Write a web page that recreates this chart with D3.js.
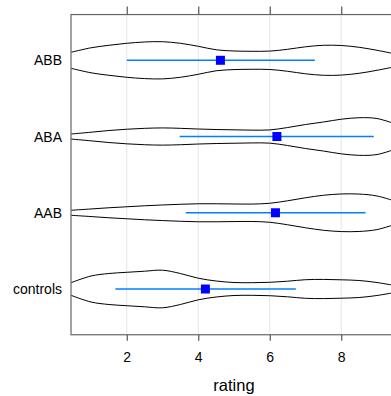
<!DOCTYPE html>
<html><head><meta charset="utf-8">
<script src="https://cdn.jsdelivr.net/npm/d3@7"></script>
<style>body{margin:0;background:#fff;}svg{display:block;font-family:"Liberation Sans",Arial,sans-serif;}</style>
</head><body><svg id="c" width="391" height="396"></svg>
<script>
const groups = ["controls", "AAB", "ABA", "ABB"];
const ratingGrid = [0.44, 1, 1.5, 2, 2.5, 3, 3.5, 4, 4.5, 5, 5.5, 6, 6.5, 7, 7.5, 8, 8.5, 9, 9.56];
const densControls = [6.3, 13, 15.5, 16.7, 17.8, 18.8, 15.5, 10.8, 8, 6.5, 6.3, 6.7, 7.8, 9.3, 9.6, 9.2, 8.5, 6.5, 3];
const densAAB = [2.5, 3.8, 5, 6, 7, 7.8, 8.5, 9, 9, 8.8, 8.7, 9.5, 12, 15, 17.5, 18.8, 18.7, 16.8, 11];
const densABA = [2.5, 4.3, 6, 7.3, 8.2, 8.6, 8.2, 7.5, 7, 6.7, 6.4, 6.6, 9, 12, 14.5, 17.3, 18.8, 18, 12];
const densABB = [8, 12.5, 15, 17, 18.3, 18.6, 17, 14, 10.5, 9.3, 9, 9.2, 11, 13.5, 15, 14.8, 13, 10, 6];
const means = [4.2, 6.16, 6.2, 4.62];
const lower = [1.68, 3.65, 3.48, 2.0];
const upper = [6.73, 8.68, 8.91, 7.26];
const xTicks = [2, 4, 6, 8];
const xLabel = "rating";

const dens = [densControls, densAAB, densABA, densABB];
const svg = d3.select("#c");
const L = 71, R = 397, T = 14.55, B = 334.75;
const x = d3.scaleLinear().domain([0.44, 9.56]).range([L, R]);
const y = d3.scalePoint().domain(groups).range([B, T]).padding(0.6);
const w = d3.scaleLinear().domain([0, 20]).range([0, 20]);

svg.append("defs").append("clipPath").attr("id", "pc").append("rect")
  .attr("x", L).attr("y", T).attr("width", R - L).attr("height", B - T);

// grid
svg.append("g").selectAll("line").data(xTicks).join("line")
  .attr("x1", d => x(d)).attr("x2", d => x(d)).attr("y1", T).attr("y2", B)
  .attr("stroke", "#e6e6e6").attr("stroke-width", 1);

const pg = svg.append("g").attr("clip-path", "url(#pc)");
groups.forEach((g, i) => {
  const pts = ratingGrid.map((r, j) => ({r, d: dens[i][j]}));
  const top = d3.line().x(p => x(p.r)).y(p => y(g) - w(p.d)).curve(d3.curveCatmullRom);
  const bot = d3.line().x(p => x(p.r)).y(p => y(g) + w(p.d)).curve(d3.curveCatmullRom);
  pg.append("path").attr("d", top(pts)).attr("fill", "none").attr("stroke", "#000").attr("stroke-width", 1);
  pg.append("path").attr("d", bot(pts)).attr("fill", "none").attr("stroke", "#000").attr("stroke-width", 1);
  pg.append("line").attr("x1", x(lower[i])).attr("x2", x(upper[i]))
    .attr("y1", y(g)).attr("y2", y(g)).attr("stroke", "#0080ff").attr("stroke-width", 1.6);
  pg.append("rect").attr("x", x(means[i]) - 4.5).attr("y", y(g) - 4.5)
    .attr("width", 9).attr("height", 9).attr("fill", "#0000ff");
});

// border
svg.append("rect").attr("x", L).attr("y", T).attr("width", R - L).attr("height", B - T)
  .attr("fill", "none").attr("stroke", "#666").attr("stroke-width", 1.2);

// axes
const ab = svg.append("g").attr("transform", `translate(0,${B})`)
  .call(d3.axisBottom(x).tickValues(xTicks).tickSize(6).tickPadding(11).tickFormat(d3.format("d")));
const at = svg.append("g").attr("transform", `translate(0,${T})`)
  .call(d3.axisTop(x).tickValues(xTicks).tickSize(8).tickFormat(""));
const al = svg.append("g").attr("transform", `translate(${L},0)`)
  .call(d3.axisLeft(y).tickSize(0).tickPadding(9));
[ab, at, al].forEach(a => {
  a.select(".domain").remove();
  a.selectAll("line").attr("stroke", "#555").attr("stroke-width", 1.2);
  a.selectAll("text").attr("fill", "#000").attr("font-size", 14).attr("font-family", "Liberation Sans, Arial, sans-serif");
});
svg.append("text").attr("x", x(5.0)).attr("y", 391).attr("text-anchor", "middle")
  .attr("font-size", 16.5).attr("fill", "#000").text(xLabel);
</script></body></html>
